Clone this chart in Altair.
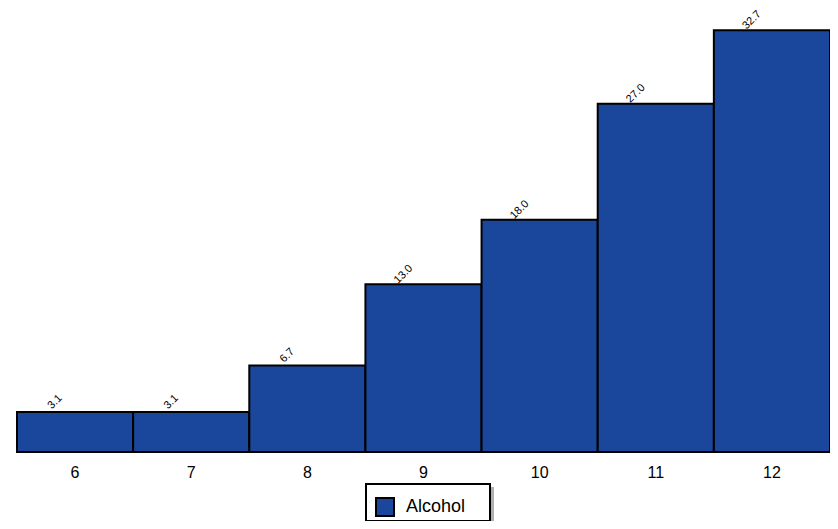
import altair as alt
import pandas as pd

categories = ["6", "7", "8", "9", "10", "11", "12"]
values = [3.1, 3.1, 6.7, 13.0, 18.0, 27.0, 32.7]
series = ["Alcohol"] * len(categories)

df = pd.DataFrame({"cat": categories, "value": values, "series": series})

W, H = 813, 438

base = alt.Chart(df)

bars = base.mark_bar(stroke="black", strokeWidth=2).encode(
    x=alt.X("cat:N", sort=categories, title=None,
            scale=alt.Scale(paddingInner=0, paddingOuter=0),
            axis=alt.Axis(ticks=False, domain=False, labelAngle=0, labelFontSize=16,
                          labelFont="Liberation Sans", labelPadding=12, labelColor="black")),
    y=alt.Y("value:Q", scale=alt.Scale(domain=[0, 33.95], nice=False), axis=None),
    fill=alt.Fill("series:N", title=None,
                  scale=alt.Scale(range=["#1a479b"]),
                  legend=alt.Legend(orient="none", legendX=349, legendY=474,
                                    padding=9, symbolType="square", symbolSize=324,
                                    symbolStrokeColor="black", symbolStrokeWidth=2,
                                    labelFontSize=18, labelFont="Liberation Sans",
                                    labelColor="black", labelLimit=200,
                                    symbolOffset=0, labelOffset=11)),
)

labels = base.mark_text(angle=315, align="center", baseline="middle", fontSize=11,
                        font="Liberation Sans", color="black", xOffset=-20, yOffset=-10).encode(
    x=alt.X("cat:N", sort=categories),
    y="value:Q",
    text=alt.Text("value:Q", format=".1f"),
)

deco = alt.Chart(pd.DataFrame({"a": [0]}))
shadow = deco.mark_rect(color="#b0b0b0").encode(
    x=alt.value(352), x2=alt.value(477), y=alt.value(473), y2=alt.value(511)
)
box = deco.mark_rect(fill="white", stroke="black", strokeWidth=2).encode(
    x=alt.value(349), x2=alt.value(473), y=alt.value(470), y2=alt.value(507)
)

chart = alt.layer(shadow, box, bars, labels).properties(
    width=W, height=H,
    autosize=alt.AutoSizeParams(type="none"),
    padding={"left": 9, "top": 6, "right": 0, "bottom": 69},
).configure_view(stroke=None)

chart.save("out.html", embed_options={"renderer": "svg", "actions": False})
